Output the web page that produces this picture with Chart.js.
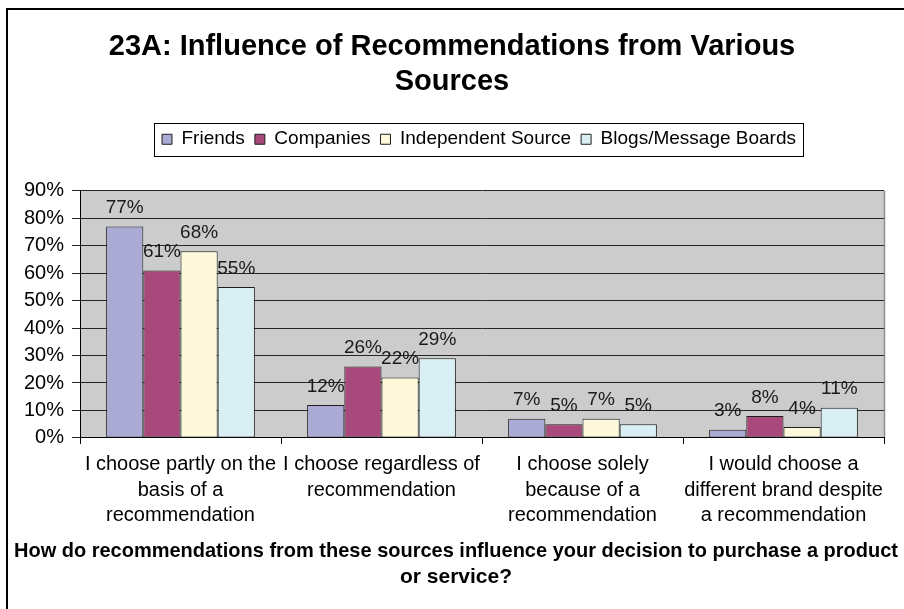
<!DOCTYPE html>
<html>
<head>
<meta charset="utf-8">
<script src="https://cdn.jsdelivr.net/npm/chart.js@4/dist/chart.umd.min.js"></script>
<style>
  html, body { margin: 0; padding: 0; background: #ffffff; }
  canvas { display: block; }
</style>
</head>
<body>
<canvas id="chart" width="904" height="609"></canvas>
<script>
// Survey question 23A: how recommendations from each source affect purchase decisions (% of respondents)
const categories = [
  ['I choose partly on the', 'basis of a', 'recommendation'],
  ['I choose regardless of', 'recommendation'],
  ['I choose solely', 'because of a', 'recommendation'],
  ['I would choose a', 'different brand despite', 'a recommendation']
];
const seriesNames = ['Friends', 'Companies', 'Independent Source', 'Blogs/Message Boards'];
const friends     = [77, 12, 7, 3];
const companies   = [61, 26, 5, 8];
const independent = [68, 22, 7, 4];
const blogs       = [55, 29, 5, 11];
const yTickValues = [0, 10, 20, 30, 40, 50, 60, 70, 80, 90];

const chartTitle = ['23A: Influence of Recommendations from Various', 'Sources'];
const questionText = ['How do recommendations from these sources influence your decision to purchase a product', 'or service?'];

const FONT = '"Liberation Sans", Arial, sans-serif';
const fillColors = ['#aaaad5', '#a9487a', '#fdf9da', '#daeff4'];

// White page, outer frame lines and grey plot background
const framePlugin = {
  id: 'frame',
  beforeDraw(chart) {
    const ctx = chart.ctx;
    const a = chart.chartArea;
    ctx.save();
    ctx.fillStyle = '#ffffff';
    ctx.fillRect(0, 0, chart.width, chart.height);
    ctx.strokeStyle = '#000000';
    ctx.lineWidth = 2;
    ctx.beginPath();
    ctx.moveTo(7, chart.height);
    ctx.lineTo(7, 9);
    ctx.lineTo(chart.width, 9);
    ctx.stroke();
    ctx.fillStyle = '#cccccc';
    ctx.fillRect(a.left, a.top, a.right - a.left, a.bottom - a.top);
    ctx.strokeStyle = '#8c8c8c';
    ctx.lineWidth = 1.5;
    ctx.beginPath();
    ctx.moveTo(a.right + 0.5, a.top);
    ctx.lineTo(a.right + 0.5, a.bottom);
    ctx.stroke();
    ctx.restore();
  }
};

// Horizontal placement of the heading blocks on the page
const blockShift = { title: 10, legend: 37, subtitle: 14 };

// Extra room under the legend, a border around its items, and block offsets
const legendBoxPlugin = {
  id: 'legendBox',
  beforeInit(chart) {
    const fit = chart.legend.fit;
    chart.legend.fit = function () {
      fit.call(this);
      this.height += 32;
    };
  },
  afterLayout(chart) {
    const TitleClass = chart.titleBlock && chart.titleBlock.constructor;
    chart.boxes.forEach(box => {
      let dx = 0;
      if (box === chart.legend) dx = blockShift.legend;
      else if (box === chart.titleBlock) dx = blockShift.title;
      else if (TitleClass && box instanceof TitleClass) dx = blockShift.subtitle;
      if (dx) { box.left += dx; box.right += dx; }
    });
  },
  afterDraw(chart) {
    const boxes = chart.legend.legendHitBoxes;
    if (!boxes || !boxes.length) return;
    const first = boxes[0];
    const last = boxes[boxes.length - 1];
    const ctx = chart.ctx;
    ctx.save();
    ctx.strokeStyle = '#000000';
    ctx.lineWidth = 1;
    const x0 = Math.round(first.left - 8) + 0.5;
    const x1 = Math.round(last.left + last.width + 7) + 0.5;
    const y0 = Math.round(first.top - 7) + 0.5;
    const y1 = Math.round(first.top + first.height + 7) + 0.5;
    ctx.strokeRect(x0, y0, x1 - x0, y1 - y0);
    ctx.restore();
  }
};

// Percentage label above every bar
const valueLabelPlugin = {
  id: 'valueLabels',
  afterDatasetsDraw(chart) {
    const ctx = chart.ctx;
    ctx.save();
    ctx.font = '19px ' + FONT;
    ctx.fillStyle = '#1a1a1a';
    ctx.textAlign = 'center';
    ctx.textBaseline = 'bottom';
    chart.data.datasets.forEach((ds, i) => {
      chart.getDatasetMeta(i).data.forEach((bar, j) => {
        ctx.fillText(ds.data[j] + '%', bar.x, bar.y - 9);
      });
    });
    ctx.restore();
  }
};

new Chart(document.getElementById('chart'), {
  type: 'bar',
  data: {
    labels: categories,
    datasets: [friends, companies, independent, blogs].map((values, i) => ({
      label: seriesNames[i],
      data: values,
      backgroundColor: fillColors[i],
      borderColor: '#1e1e1e',
      borderWidth: 1,
      borderSkipped: false,
      categoryPercentage: 0.74,
      barPercentage: 1.0
    }))
  },
  options: {
    responsive: false,
    devicePixelRatio: 1,
    animation: false,
    layout: { padding: { left: 0, right: 20, top: 0, bottom: 0 } },
    plugins: {
      title: {
        display: true,
        text: chartTitle,
        color: '#000000',
        font: { family: FONT, size: 29, weight: 'bold', lineHeight: 1.22 },
        padding: { top: 29, bottom: 20 }
      },
      subtitle: {
        display: true,
        position: 'bottom',
        text: questionText,
        color: '#000000',
        font: { family: FONT, size: 21, weight: 'bold', lineHeight: 1.24 },
        padding: { top: 0, bottom: 19 }
      },
      legend: {
        display: true,
        position: 'top',
        labels: {
          color: '#000000',
          font: { family: FONT, size: 19 },
          boxWidth: 10,
          boxHeight: 10,
          padding: 10,
          generateLabels(chart) {
            return chart.data.datasets.map((ds, i) => ({
              text: ds.label,
              fillStyle: ds.backgroundColor,
              strokeStyle: '#1e1e1e',
              lineWidth: 1,
              datasetIndex: i,
              hidden: false
            }));
          }
        }
      },
      tooltip: { enabled: false }
    },
    scales: {
      x: {
        grid: {
          display: true,
          drawOnChartArea: false,
          drawTicks: true,
          tickLength: 6,
          offset: true,
          color: '#000000'
        },
        border: { display: true, color: '#000000', width: 1 },
        ticks: {
          color: '#000000',
          font: { family: FONT, size: 20, lineHeight: 1.28 },
          padding: 8,
          maxRotation: 0,
          autoSkip: false
        },
        afterFit(scale) { scale.height = 100; }
      },
      y: {
        min: 0,
        max: 90,
        afterBuildTicks(scale) { scale.ticks = yTickValues.map(v => ({ value: v })); },
        grid: {
          color: '#262626',
          lineWidth: 1,
          drawTicks: true,
          tickLength: 8
        },
        border: { display: true, color: '#000000', width: 1 },
        ticks: {
          color: '#000000',
          font: { family: FONT, size: 20 },
          padding: 8,
          callback: v => v + '%'
        },
        afterFit(scale) { scale.width = 80; }
      }
    }
  },
  plugins: [framePlugin, legendBoxPlugin, valueLabelPlugin]
});
</script>
</body>
</html>
